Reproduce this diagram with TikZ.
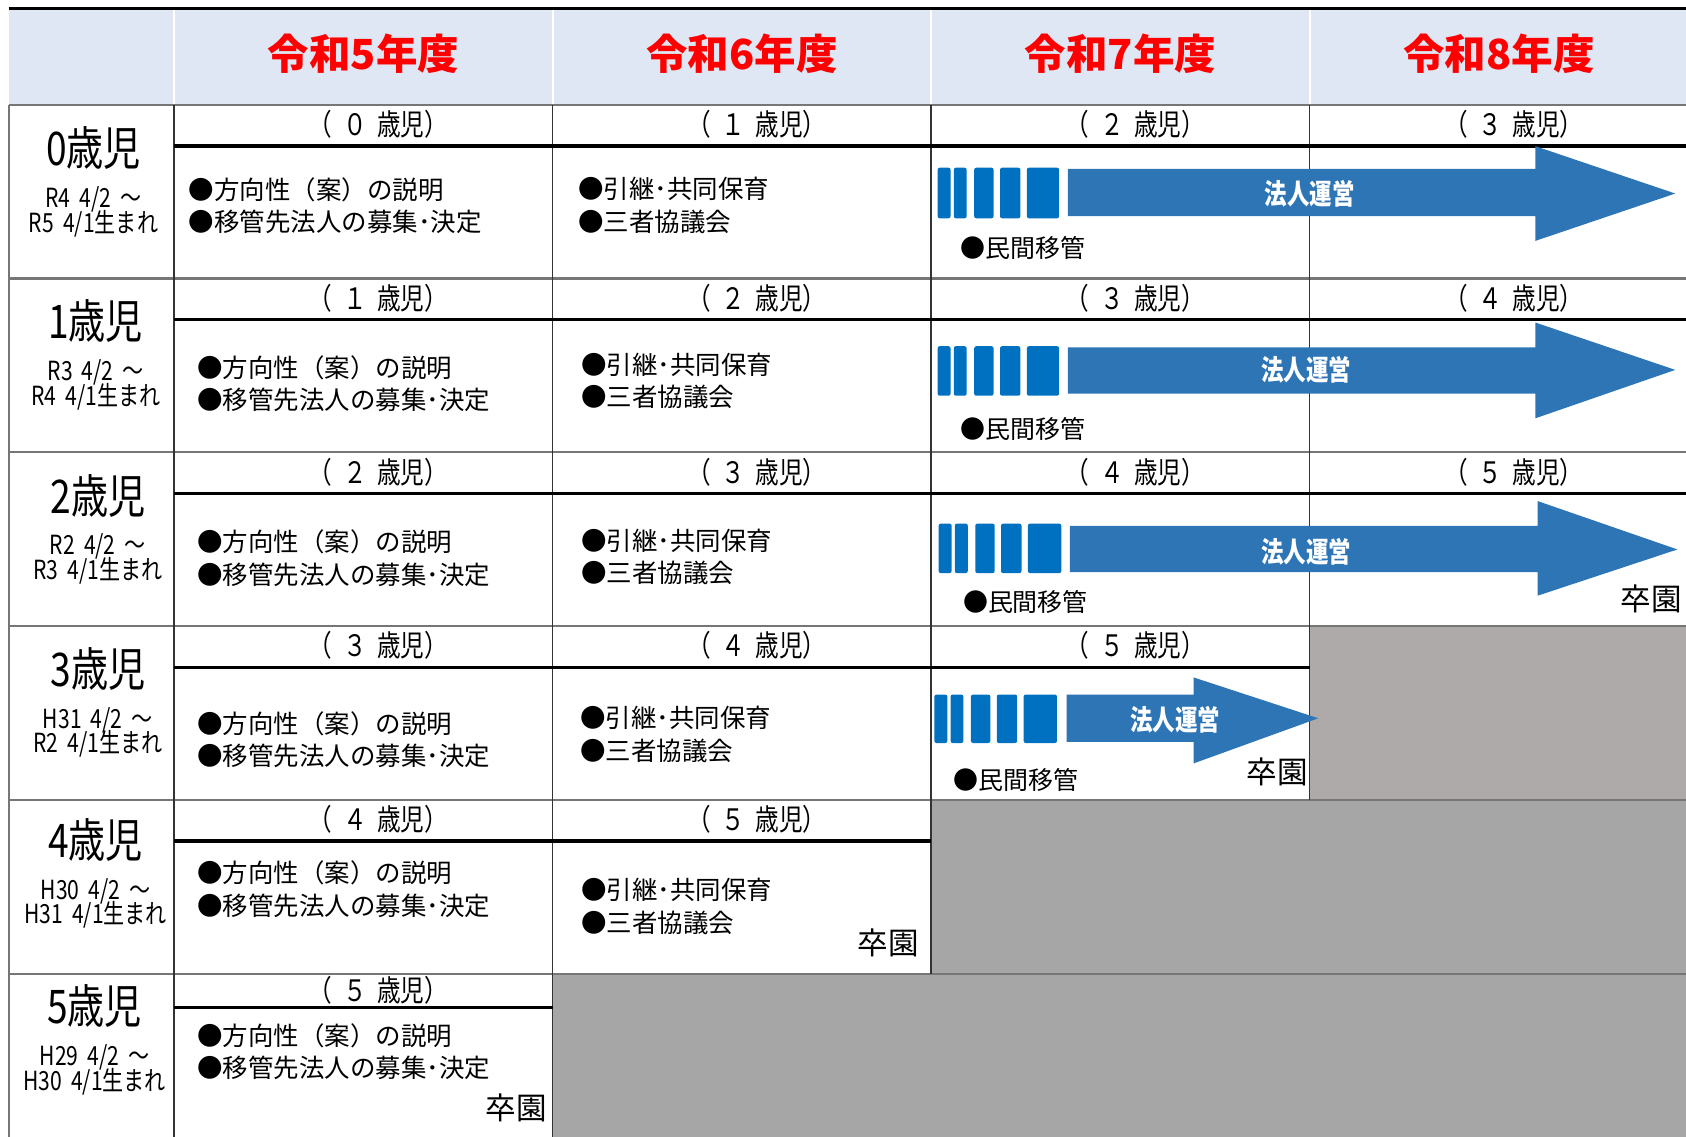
\documentclass[tikz,border=0pt]{standalone}
\usepackage{fontspec}
\setmainfont{Noto Sans CJK JP}
\newfontfamily\condfont[FakeStretch=0.8]{Noto Sans CJK JP}
\newcommand{\tightskip}{\lineskiplimit=-5pt\relax}
\newcommand{\agegap}{\hspace{3pt}}
\newcommand{\dategap}{\hspace{2.6pt}}
\definecolor{headfill}{RGB}{222,231,243}
\definecolor{headred}{RGB}{255,0,0}
\definecolor{arrowblue}{RGB}{46,117,182}
\definecolor{barblue}{RGB}{0,112,192}
\definecolor{greyone}{RGB}{174,170,170}
\definecolor{greytwo}{RGB}{166,166,166}
\definecolor{gridgray}{RGB}{118,118,118}
\tikzset{
  yearhead/.style={text=headred, font=\bfseries\fontsize{11.8}{14}\selectfont},
  agehead/.style={font=\condfont\fontsize{13.2}{15}\selectfont, inner sep=0pt},
  birthtext/.style={font=\condfont\fontsize{7.5}{7}\selectfont\tightskip, align=center, inner sep=0pt},
  agesub/.style={font=\condfont\fontsize{8.4}{10}\selectfont, inner sep=0pt},
  tasktext/.style={font=\fontsize{7.25}{9.2}\selectfont\tightskip, align=left, anchor=west, inner sep=0pt},
  transfer/.style={font=\fontsize{7.1}{9}\selectfont, anchor=west, inner sep=0pt},
  graduate/.style={font=\fontsize{8.7}{10}\selectfont, anchor=east, inner sep=0pt},
  opsarrow/.style={fill=arrowblue},
  barblock/.style={fill=barblue, rounded corners=0.02cm},
  opstext/.style={text=white, font=\condfont\bfseries\fontsize{8}{10}\selectfont},
  rowline/.style={draw=gridgray, line width=0.022cm},
  colline/.style={draw=black!80, line width=0.014cm},
  subline/.style={draw=black, line width=0.035cm},
}
\begin{document}
\begin{tikzpicture}[x=0.010753cm, y=-0.010757cm]
  \clip (0,0) rectangle (1568,1057);

  % Header band
  \fill [headfill] (8,8) rectangle (1568,98);%
  \fill [greyone] (1218,582) rectangle (1568,744);%
  \fill [greytwo] (866,744) rectangle (1568,906);%
  \fill [greytwo] (514,906) rectangle (1568,1057);%

  % Header separators
  \draw [white, line width=0.02cm] (162,8) -- (162,98);%
  \draw [white, line width=0.02cm] (514,8) -- (514,98);%
  \draw [white, line width=0.02cm] (866,8) -- (866,98);%
  \draw [white, line width=0.02cm] (1218,8) -- (1218,98);%
  \draw [black, line width=0.025cm] (8,8) -- (1568,8);%

  % Row lines
  \draw [rowline] (8,98) -- (1568,98);%
  \draw [rowline] (8,259) -- (1568,259);%
  \draw [rowline] (8,420) -- (1568,420);%
  \draw [rowline] (8,582) -- (1568,582);%
  \draw [rowline] (8,744) -- (1568,744);%
  \draw [rowline] (8,906) -- (1568,906);%
  \draw [rowline] (8,98) -- (8,1057);%

  % Column lines
  \draw [colline] (162,98) -- (162,1057);%
  \draw [colline] (514,98) -- (514,1057);%
  \draw [colline] (866,98) -- (866,906);%
  \draw [colline] (1218,98) -- (1218,744);%

  % Lines under the age labels
  \draw [subline] (162,136) -- (1568,136);%
  \draw [subline] (162,297) -- (1568,297);%
  \draw [subline] (162,459) -- (1568,459);%
  \draw [subline] (162,621) -- (1218,621);%
  \draw [subline] (162,782) -- (866,782);%
  \draw [subline] (162,937) -- (514,937);%

  % Year headings
  \node [yearhead] (r5) at (338,50) {令和5年度};%
  \node [yearhead] (r6) at (690,50) {令和6年度};%
  \node [yearhead] (r7) at (1042,50) {令和7年度};%
  \node [yearhead] (r8) at (1394,50) {令和8年度};%

  % Class labels
  \node [agehead] (k0) at (87,138) {0歳児};%
  \node [birthtext] (b0) at (87,197) {R4\dategap 4/2\dategap ～\\R5\dategap 4/1生まれ};%
  \node [agehead] (k1) at (89,299) {1歳児};%
  \node [birthtext] (b1) at (89,358) {R3\dategap 4/2\dategap ～\\R4\dategap 4/1生まれ};%
  \node [agehead] (k2) at (91,461) {2歳児};%
  \node [birthtext] (b2) at (91,520) {R2\dategap 4/2\dategap ～\\R3\dategap 4/1生まれ};%
  \node [agehead] (k3) at (91,622) {3歳児};%
  \node [birthtext] (b3) at (91,681) {H31\dategap 4/2\dategap ～\\R2\dategap 4/1生まれ};%
  \node [agehead] (k4) at (89,781) {4歳児};%
  \node [birthtext] (b4) at (89,840) {H30\dategap 4/2\dategap ～\\H31\dategap 4/1生まれ};%
  \node [agehead] (k5) at (88,936) {5歳児};%
  \node [birthtext] (b5) at (88,995) {H29\dategap 4/2\dategap ～\\H30\dategap 4/1生まれ};%

  % Age in each year
  \node [agesub] (a00) at (352,116) {（\agegap ０\agegap 歳児）};%
  \node [agesub] (a01) at (704,116) {（\agegap １\agegap 歳児）};%
  \node [agesub] (a02) at (1056,116) {（\agegap ２\agegap 歳児）};%
  \node [agesub] (a03) at (1408,116) {（\agegap ３\agegap 歳児）};%
  \node [agesub] (a10) at (352,277) {（\agegap １\agegap 歳児）};%
  \node [agesub] (a11) at (704,277) {（\agegap ２\agegap 歳児）};%
  \node [agesub] (a12) at (1056,277) {（\agegap ３\agegap 歳児）};%
  \node [agesub] (a13) at (1408,277) {（\agegap ４\agegap 歳児）};%
  \node [agesub] (a20) at (352,439) {（\agegap ２\agegap 歳児）};%
  \node [agesub] (a21) at (704,439) {（\agegap ３\agegap 歳児）};%
  \node [agesub] (a22) at (1056,439) {（\agegap ４\agegap 歳児）};%
  \node [agesub] (a23) at (1408,439) {（\agegap ５\agegap 歳児）};%
  \node [agesub] (a30) at (352,600) {（\agegap ３\agegap 歳児）};%
  \node [agesub] (a31) at (704,600) {（\agegap ４\agegap 歳児）};%
  \node [agesub] (a32) at (1056,600) {（\agegap ５\agegap 歳児）};%
  \node [agesub] (a40) at (352,762) {（\agegap ４\agegap 歳児）};%
  \node [agesub] (a41) at (704,762) {（\agegap ５\agegap 歳児）};%
  \node [agesub] (a50) at (352,921) {（\agegap ５\agegap 歳児）};%

  % First year tasks
  \node [tasktext] (t00) at (175,191) {●方向性（案）の説明\\●移管先法人の募集･決定};%
  \node [tasktext] (t10) at (183,357) {●方向性（案）の説明\\●移管先法人の募集･決定};%
  \node [tasktext] (t20) at (183,519) {●方向性（案）の説明\\●移管先法人の募集･決定};%
  \node [tasktext] (t30) at (183,688) {●方向性（案）の説明\\●移管先法人の募集･決定};%
  \node [tasktext] (t40) at (183,827) {●方向性（案）の説明\\●移管先法人の募集･決定};%
  \node [tasktext] (t50) at (183,978) {●方向性（案）の説明\\●移管先法人の募集･決定};%

  % Second year tasks
  \node [tasktext] (t01) at (537,191) {●引継･共同保育\\●三者協議会};%
  \node [tasktext] (t11) at (540,354) {●引継･共同保育\\●三者協議会};%
  \node [tasktext] (t21) at (540,518) {●引継･共同保育\\●三者協議会};%
  \node [tasktext] (t31) at (539,683) {●引継･共同保育\\●三者協議会};%
  \node [tasktext] (t41) at (540,843) {●引継･共同保育\\●三者協議会};%

  % Transfer bars and arrows, row 0
  \fill [barblock] (872,156) rectangle (884,203);%
  \fill [barblock] (887,156) rectangle (899,203);%
  \fill [barblock] (906,156) rectangle (924,203);%
  \fill [barblock] (930,156) rectangle (949,203);%
  \fill [barblock] (955,156) rectangle (985,203);%
  \fill [opsarrow] (993,157) -- (1428,157) -- (1428,136) -- (1558,180) -- (1428,224) -- (1428,201) -- (993,201) -- cycle;%
  \node [opstext] (o0) at (1218,180) {法人運営};%
  \node [transfer] (m0) at (893,231) {●民間移管};%

  % Transfer bars and arrows, row 1
  \fill [barblock] (872,322) rectangle (884,368);%
  \fill [barblock] (887,322) rectangle (899,368);%
  \fill [barblock] (906,322) rectangle (924,368);%
  \fill [barblock] (930,322) rectangle (949,368);%
  \fill [barblock] (955,322) rectangle (985,368);%
  \fill [opsarrow] (993,323) -- (1428,323) -- (1428,300) -- (1558,344) -- (1428,389) -- (1428,366) -- (993,366) -- cycle;%
  \node [opstext] (o1) at (1215,344) {法人運営};%
  \node [transfer] (m1) at (893,399) {●民間移管};%

  % Transfer bars and arrows, row 2
  \fill [barblock] (873,487) rectangle (885,533);%
  \fill [barblock] (888,487) rectangle (900,533);%
  \fill [barblock] (907,487) rectangle (925,533);%
  \fill [barblock] (931,487) rectangle (950,533);%
  \fill [barblock] (956,487) rectangle (987,533);%
  \fill [opsarrow] (995,489) -- (1430,489) -- (1430,466) -- (1560,511) -- (1430,554) -- (1430,532) -- (995,532) -- cycle;%
  \node [opstext] (o2) at (1215,513) {法人運営};%
  \node [transfer] (m2) at (895,560) {●民間移管};%

  % Transfer bars and arrows, row 3
  \fill [barblock] (869,646) rectangle (881,691);%
  \fill [barblock] (884,646) rectangle (896,691);%
  \fill [barblock] (903,646) rectangle (921,691);%
  \fill [barblock] (927,646) rectangle (946,691);%
  \fill [barblock] (952,646) rectangle (983,691);%
  \fill [opsarrow] (992,646) -- (1110,646) -- (1110,630) -- (1226,668) -- (1110,710) -- (1110,690) -- (992,690) -- cycle;%
  \node [opstext] (o3) at (1093,669) {法人運営};%
  \node [transfer] (m3) at (886,725) {●民間移管};%

  % Graduation
  \node [graduate] (g2) at (1565,557) {卒園};%
  \node [graduate] (g3) at (1217,718) {卒園};%
  \node [graduate] (g4) at (855,877) {卒園};%
  \node [graduate] (g5) at (509,1030) {卒園};%
\end{tikzpicture}
\end{document}
